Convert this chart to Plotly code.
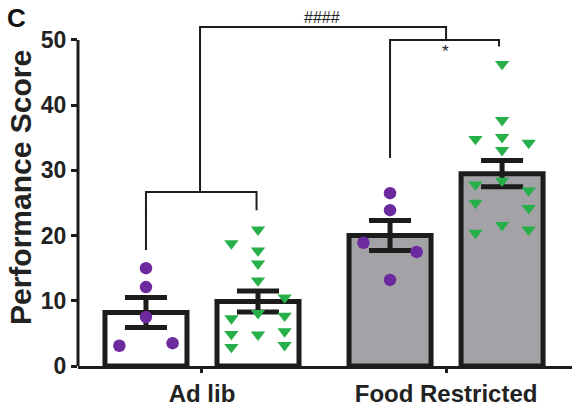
import plotly.graph_objects as go

# ---- data -------------------------------------------------------------
groups = ["Ad lib", "Food Restricted"]
y_ticks = [0, 10, 20, 30, 40, 50]

# bar heights (mean) and SEM for each cohort
circle_mean = [8.2, 20.0]
circle_sem = [2.3, 2.3]
triangle_mean = [9.9, 29.5]
triangle_sem = [1.6, 2.0]

# individual animals
circle_adlib = [15.0, 12.1, 7.5, 3.1, 3.5]
circle_restricted = [26.5, 23.9, 18.9, 17.5, 13.2]
triangle_adlib = [18.8, 20.9, 17.7, 15.7, 13.1, 10.5, 8.1, 7.3, 7.7, 4.9, 4.8, 5.3, 2.9, 3.2]
triangle_restricted = [46.3, 37.7, 34.8, 35.1, 34.2, 33.1, 27.8, 28.4, 26.9, 25.0, 24.2, 21.6, 20.9, 20.4]

# ---- layout helpers -----------------------------------------------------
W, H = 579, 414
ML, MR, MT, MB = 78, 7, 0, 48
X_RANGE = [-0.508, 1.516]
Y_RANGE = [0, 56.13]
BAR_OFFSET = 0.2295     # bar centre distance from group centre
BAR_WIDTH = 0.336
COL_STEP = 0.109        # horizontal spacing of scatter columns

# swarm column of each point (-1 left, 0 centre, 1 right)
cols_circle_adlib = [0, 0, 0, -1, 1]
cols_circle_restricted = [0, 0, -1, 1, 0]
cols_tri_adlib = [-1, 0, 0, 0, 0, 1, 0, -1, 1, -1, 0, 1, -1, 1]
cols_tri_restricted = [0, 0, -1, 0, 1, 0, -1, 0, 1, -1, 1, 0, 1, -1]

PURPLE = "#6c2a9e"
GREEN = "#27b04a"
INK = "#1c1c1c"
GREY_FILL = "#a3a3a7"
FONT = "Liberation Sans, Arial, sans-serif"

group_x = list(range(len(groups)))
left_x = [g - BAR_OFFSET for g in group_x]
right_x = [g + BAR_OFFSET for g in group_x]
fills = ["white", GREY_FILL]


def swarm_x(centre, cols):
    return [centre + c * COL_STEP for c in cols]


fig = go.Figure()

err_style = dict(type="data", visible=True, color=INK, thickness=5, width=21)
bar_line = dict(color=INK, width=5)

fig.add_trace(go.Bar(
    x=left_x, y=circle_mean, width=BAR_WIDTH,
    marker=dict(color=fills, line=bar_line),
    error_y=dict(array=circle_sem, **err_style),
    showlegend=False, hoverinfo="skip"))
fig.add_trace(go.Bar(
    x=right_x, y=triangle_mean, width=BAR_WIDTH,
    marker=dict(color=fills, line=bar_line),
    error_y=dict(array=triangle_sem, **err_style),
    showlegend=False, hoverinfo="skip"))

circle_marker = dict(symbol="circle", size=12.5, color=PURPLE, line=dict(width=0))
tri_marker = dict(symbol="triangle-down", size=12.5, color=GREEN, line=dict(width=0))

for centre, vals, cols in [(left_x[0], circle_adlib, cols_circle_adlib),
                           (left_x[1], circle_restricted, cols_circle_restricted)]:
    fig.add_trace(go.Scatter(x=swarm_x(centre, cols), y=vals, mode="markers",
                             marker=circle_marker, showlegend=False, cliponaxis=False))
for centre, vals, cols in [(right_x[0], triangle_adlib, cols_tri_adlib),
                           (right_x[1], triangle_restricted, cols_tri_restricted)]:
    fig.add_trace(go.Scatter(x=swarm_x(centre, cols), y=vals, mode="markers",
                             marker=tri_marker, showlegend=False, cliponaxis=False))

# ---- comparison brackets ---------------------------------------------------
br = dict(type="path", xref="x", yref="y", line=dict(color=INK, width=2))
shapes = [
    # within Ad lib
    dict(path=f"M {left_x[0]},17.8 L {left_x[0]},26.7 L {right_x[0] - 0.006},26.7 "
              f"L {right_x[0] - 0.006},23.9", **br),
    # within Food Restricted
    dict(path=f"M {left_x[1]},31.9 L {left_x[1]},50.0 L 1.217,50.0 L 1.217,49.0", **br),
    # between diets
    dict(path="M -0.008,26.7 L -0.008,52.0 L 1.0,52.0 L 1.0,50.0", **br),
    # y axis line, only up to 50
    dict(type="line", xref="paper", yref="y", x0=0, x1=0, y0=-0.25, y1=50,
         line=dict(color=INK, width=3)),
]

annotations = [
    dict(text="####", x=0.492, y=53.4, xref="x", yref="y", showarrow=False,
         font=dict(family=FONT, size=16, color="#222"), yanchor="middle"),
    dict(text="****", x=0.445, y=56.3, xref="x", yref="y", showarrow=False,
         font=dict(family=FONT, size=15, color="#cccccc"), yanchor="middle"),
    dict(text="*", x=0.996, y=48.2, xref="x", yref="y", showarrow=False,
         font=dict(family=FONT, size=17, color="#222"), yanchor="middle"),
    dict(text="<b>C</b>", x=(16 - ML) / (W - ML - MR), y=(H - MB - 18) / (H - MB - MT),
         xref="paper", yref="paper", showarrow=False, xanchor="center", yanchor="middle",
         font=dict(family=FONT, size=26, color="#111")),
    dict(text="<b>Performance Score</b>", textangle=-90,
         x=(20 - ML) / (W - ML - MR), y=(H - MB - 188) / (H - MB - MT),
         xref="paper", yref="paper", showarrow=False, xanchor="center", yanchor="middle",
         font=dict(family=FONT, size=30, color="#222")),
]

fig.update_layout(
    width=W, height=H,
    margin=dict(l=ML, r=MR, t=MT, b=MB),
    paper_bgcolor="white", plot_bgcolor="white",
    barmode="overlay",
    shapes=shapes, annotations=annotations,
    xaxis=dict(range=X_RANGE, tickvals=group_x, ticktext=[f"<b>{g}</b>" for g in groups],
               showgrid=False, zeroline=False, showline=True, linecolor=INK, linewidth=3,
               ticks="outside", ticklen=4, tickwidth=3, tickcolor=INK,
               tickfont=dict(family=FONT, size=24, color="#222")),
    yaxis=dict(range=Y_RANGE, tickvals=y_ticks, ticktext=[f"<b>{t}</b>" for t in y_ticks],
               showgrid=False, zeroline=False, showline=False,
               ticks="outside", ticklen=6, tickwidth=3, tickcolor=INK,
               tickfont=dict(family=FONT, size=23, color="#222")),
)

fig.write_html("out.html")
